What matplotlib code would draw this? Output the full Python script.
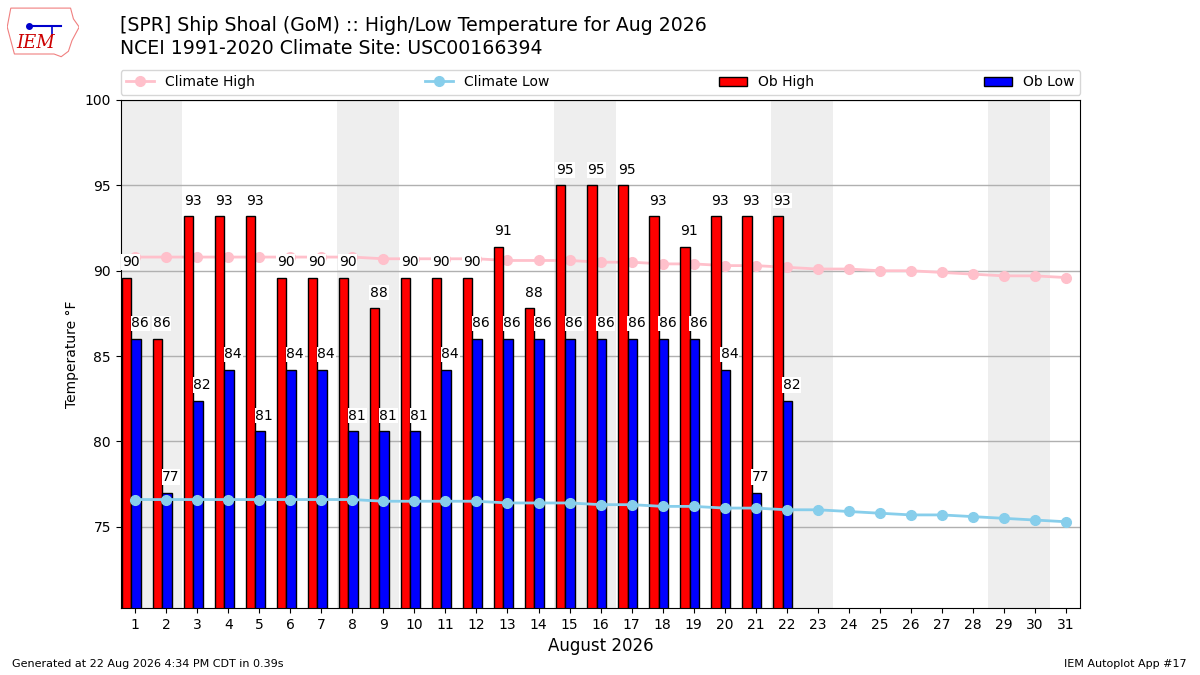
import numpy as np
import matplotlib
matplotlib.use("Agg")
import matplotlib.pyplot as plt
from matplotlib.patches import Polygon

# August 2026 daily data (deg F)
days = np.arange(1, 32)
obs_days = np.arange(1, 23)
ob_high = [89.6, 86.0, 93.2, 93.2, 93.2, 89.6, 89.6, 89.6, 87.8, 89.6, 89.6,
           89.6, 91.4, 87.8, 95.0, 95.0, 95.0, 93.2, 91.4, 93.2, 93.2, 93.2]
ob_low = [86.0, 77.0, 82.4, 84.2, 80.6, 84.2, 84.2, 80.6, 80.6, 80.6, 84.2,
          86.0, 86.0, 86.0, 86.0, 86.0, 86.0, 86.0, 86.0, 84.2, 77.0, 82.4]
climate_high = [90.8, 90.8, 90.8, 90.8, 90.8, 90.8, 90.8, 90.8, 90.7, 90.7, 90.7,
                90.7, 90.6, 90.6, 90.6, 90.5, 90.5, 90.4, 90.4, 90.3, 90.3, 90.2,
                90.1, 90.1, 90.0, 90.0, 89.9, 89.8, 89.7, 89.7, 89.6]
climate_low = [76.6, 76.6, 76.6, 76.6, 76.6, 76.6, 76.6, 76.6, 76.5, 76.5, 76.5,
               76.5, 76.4, 76.4, 76.4, 76.3, 76.3, 76.2, 76.2, 76.1, 76.1, 76.0,
               76.0, 75.9, 75.8, 75.7, 75.7, 75.6, 75.5, 75.4, 75.3]
weekend_starts = [1, 8, 15, 22, 29]  # Aug 1 2026 is a Saturday

fig = plt.figure(figsize=(12, 6.75), dpi=100)
ax = fig.add_axes([0.1006, 0.0993, 0.7997, 0.7526])

for d in weekend_starts:
    ax.axvspan(d - 0.5, d + 1.5, color="#eeeeee", zorder=0, lw=0)

ax.plot(days, climate_high, "o-", color="pink", lw=2, ms=7, zorder=1,
        label="Climate High")
ax.plot(days, climate_low, "o-", color="skyblue", lw=2, ms=7, zorder=3,
        label="Climate Low")

w = 0.3
hbars = ax.bar(obs_days - 0.43, ob_high, width=w, align="edge", color="red",
               edgecolor="black", lw=1, zorder=2, label="Ob High")
lbars = ax.bar(obs_days - 0.13, ob_low, width=w, align="edge", color="blue",
               edgecolor="black", lw=1, zorder=2, label="Ob Low")

for bars, vals in ((hbars, ob_high), (lbars, ob_low)):
    for b, v in zip(bars, vals):
        ax.text(b.get_x(), v + 0.5, f"{v:.0f}", ha="left", va="bottom",
                fontsize=10, zorder=4,
                bbox=dict(facecolor="white", edgecolor="none", pad=0.5))

ax.set_xlim(0.53, 31.47)
ax.set_ylim(70.25, 100)
ax.set_xticks(days)
ax.set_yticks([75, 80, 85, 90, 95, 100])
ax.set_axisbelow(True)
ax.grid(axis="y", color="#b0b0b0", lw=1)
ax.set_ylabel("Temperature \u00b0F", fontsize=10)
ax.set_xlabel("August 2026", fontsize=12)

ax.legend(bbox_to_anchor=(0.0, 1.01, 1.0, 0.05), loc="lower left",
          mode="expand", ncol=4, borderaxespad=0, fontsize=10)

fig.text(0.1, 0.977, "[SPR] Ship Shoal (GoM) :: High/Low Temperature for Aug 2026\n"
         "NCEI 1991-2020 Climate Site: USC00166394",
         fontsize=13.6, ha="left", va="top", linespacing=1.3)
fig.text(0.01, 0.016, "Generated at 22 Aug 2026 4:34 PM CDT in 0.39s",
         fontsize=8, ha="left", va="center")
fig.text(0.989, 0.016, "IEM Autoplot App #17", fontsize=8, ha="right",
         va="center")

# rough logo
lax = fig.add_axes([0.006, 0.912, 0.06, 0.08])
lax.set_xlim(0, 1)
lax.set_ylim(0, 1)
lax.axis("off")
outline = [(0.05, 0.95), (0.88, 0.95), (0.92, 0.75), (1.0, 0.6), (0.9, 0.35),
           (0.85, 0.15), (0.75, 0.05), (0.65, 0.1), (0.1, 0.1), (0.05, 0.35),
           (0.0, 0.6)]
lax.add_patch(Polygon(outline, closed=True, fill=False, ec="#f08080", lw=0.8))
lax.text(0.4, 0.3, "IEM", color="#cc0000", fontsize=13, family="DejaVu Serif",
         style="italic", ha="center", va="center")
lax.plot([0.3, 0.75], [0.62, 0.62], color="#0000cc", lw=1.5)
lax.plot([0.62, 0.62], [0.62, 0.45], color="#0000cc", lw=1.2)
lax.plot([0.3], [0.62], "o", color="#0000cc", ms=4)

fig.savefig("out.png", dpi=100)
